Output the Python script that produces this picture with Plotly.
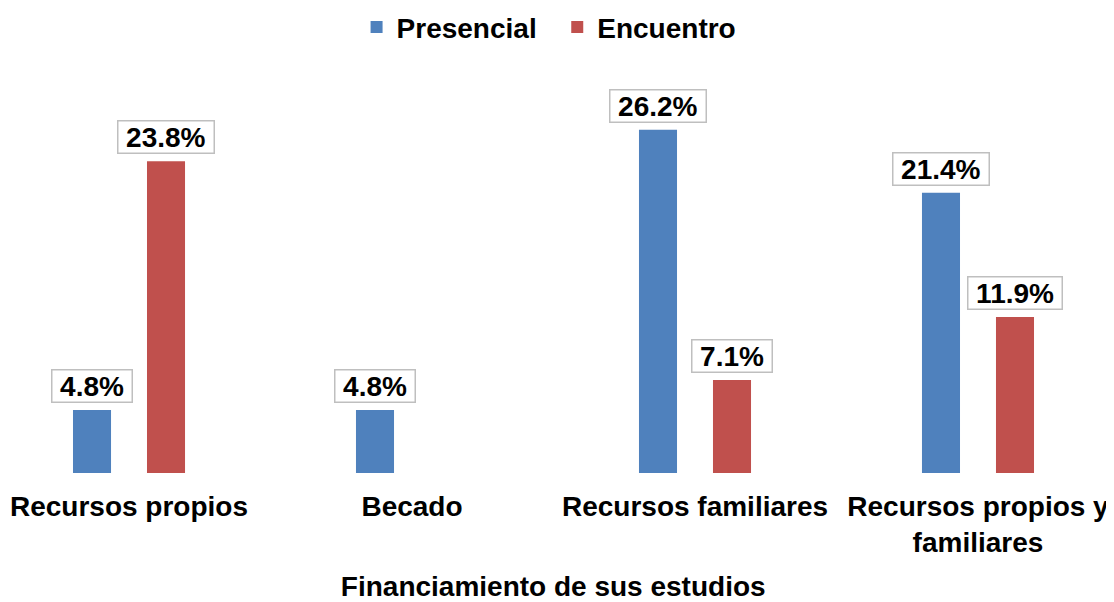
import plotly.graph_objects as go

categories = ["Recursos propios", "Becado", "Recursos familiares", "Recursos propios y<br>familiares"]
presencial = [4.8, 4.8, 26.2, 21.4]
encuentro = [23.8, None, 7.1, 11.9]
series_names = ["Presencial", "Encuentro"]
colors = ["#4F81BD", "#C0504D"]

FONT = "Liberation Sans, Arial, sans-serif"
idx = list(range(len(categories)))

fig = go.Figure()
for name, vals, col in zip(series_names, [presencial, encuentro], colors):
    fig.add_trace(go.Bar(x=idx, y=vals, name=f"<b>{name}</b>&nbsp;&nbsp;", marker=dict(color=col, line=dict(width=0))))

# value label boxes
for s, vals in enumerate([presencial, encuentro]):
    shift = -37 if s == 0 else 37
    for i, v in enumerate(vals):
        if v is None:
            continue
        fig.add_annotation(
            x=i, y=v, xref="x", yref="y", text=f"\u2009<b>{v:.1f}%</b>\u2009",
            showarrow=False, yanchor="bottom", xshift=shift, yshift=7,
            font=dict(family=FONT, size=28, color="black"), height=27,
            bgcolor="white", bordercolor="#BFBFBF", borderwidth=1.5, borderpad=2,
        )

fig.update_layout(
    width=1106, height=594,
    paper_bgcolor="white", plot_bgcolor="white",
    margin=dict(l=0, r=0, t=72, b=129, autoexpand=False),
    barmode="group", bargap=0.477, bargroupgap=0.486,
    font=dict(family=FONT, color="black"),
    showlegend=True,
    legend=dict(orientation="h", x=0.496, xanchor="center", y=1.198, yref="paper", yanchor="top",
                font=dict(family=FONT, size=28, color="black"), itemwidth=30, tracegroupgap=0),
    xaxis=dict(
        tickmode="array", tickvals=idx, ticktext=[f"<b>{c}</b>" for c in categories],
        range=[-0.4276, 3.4806], showline=False, showgrid=False, zeroline=False, ticks="",
        automargin=False, ticklabelstandoff=14,
        tickfont=dict(family=FONT, size=28, color="black"),
        title=dict(text="<b>Financiamiento de sus estudios</b>&nbsp;&nbsp;", font=dict(family=FONT, size=28, color="black"), standoff=25),
    ),
    yaxis=dict(range=[0, 30], visible=False, showgrid=False, zeroline=False, automargin=False),
)

fig.write_html("out.html")
